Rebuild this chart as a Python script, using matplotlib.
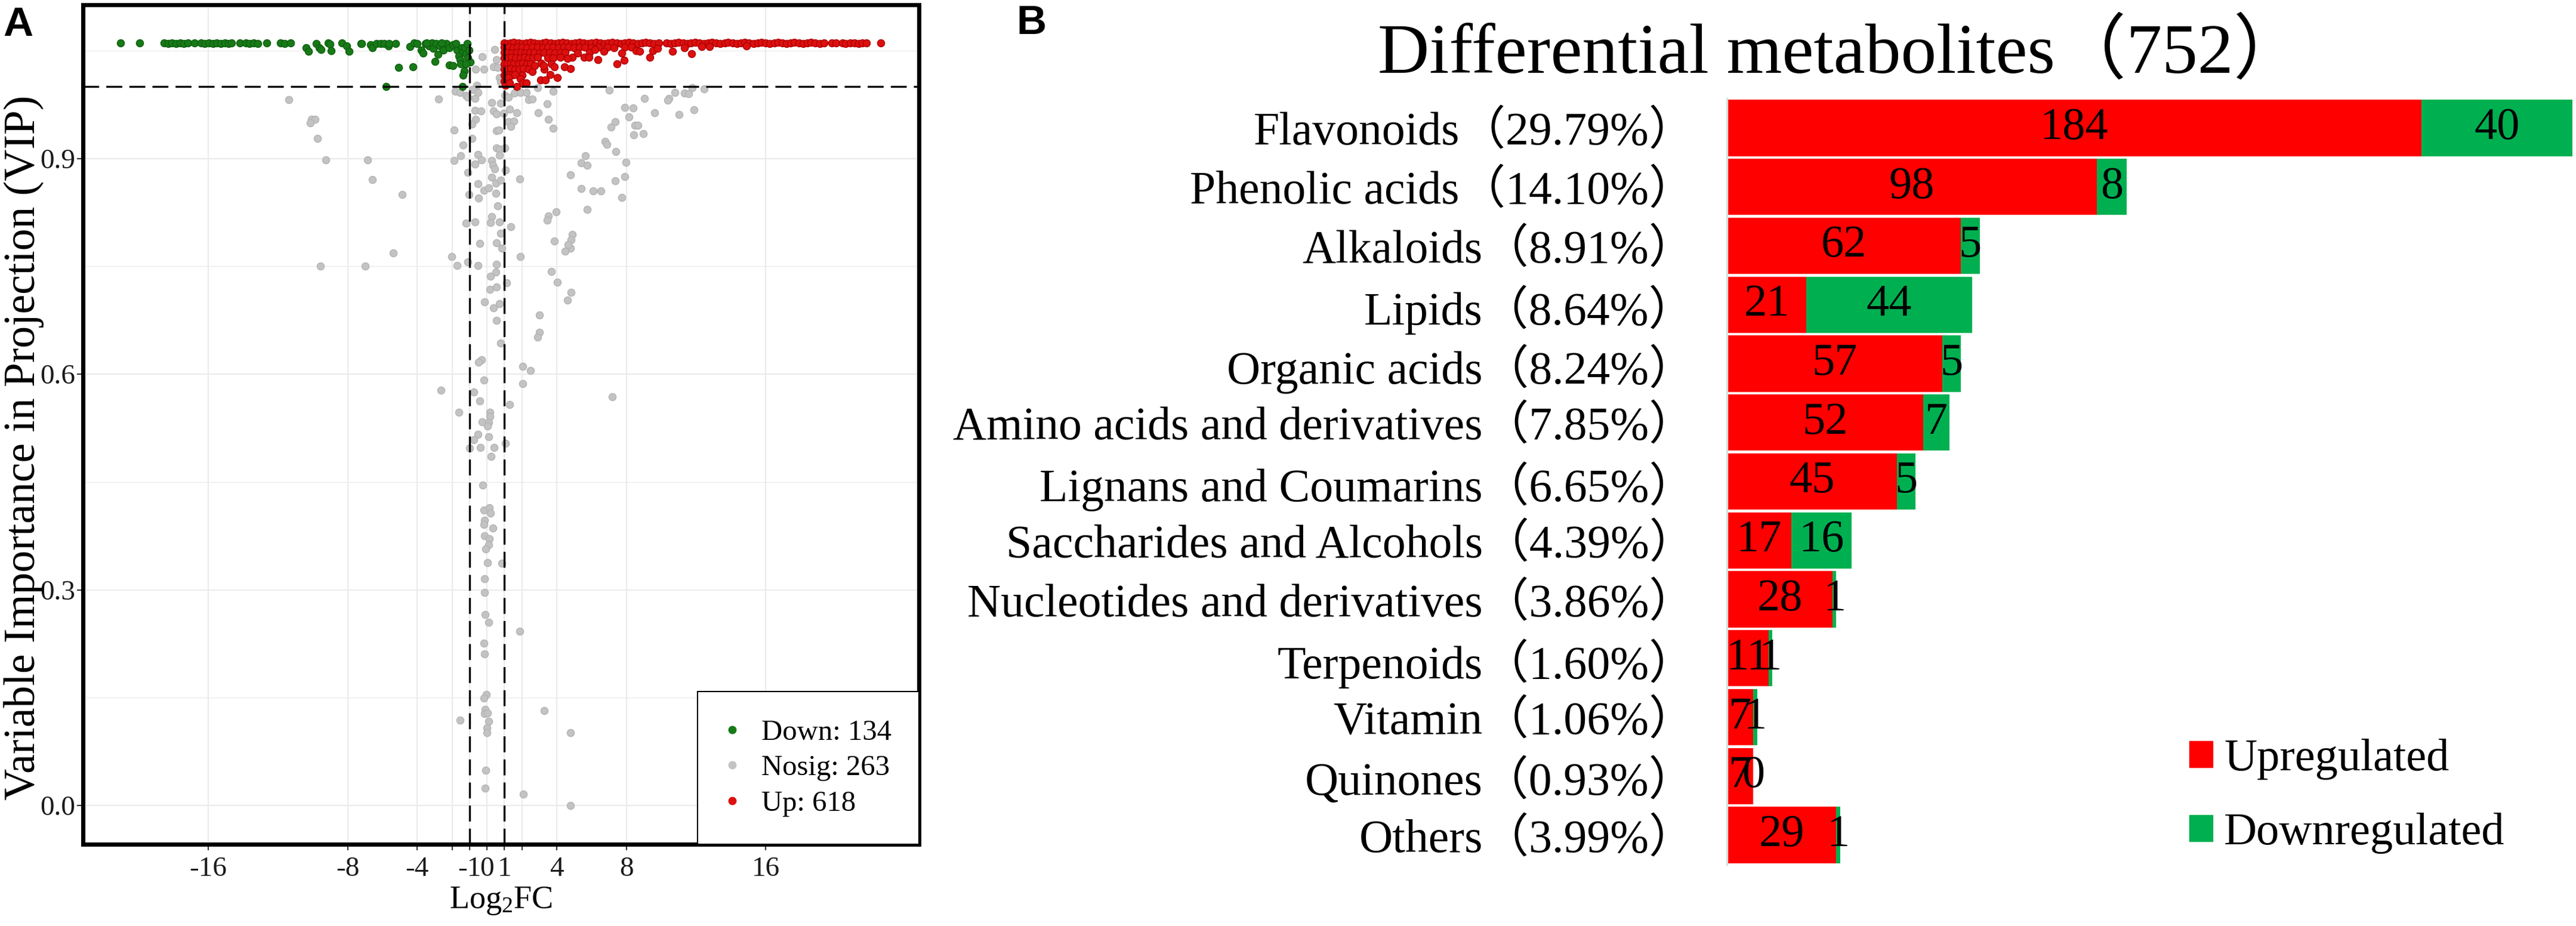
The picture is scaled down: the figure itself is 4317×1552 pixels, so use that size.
import matplotlib
matplotlib.use('Agg')
import matplotlib.pyplot as plt
from matplotlib.lines import Line2D
from matplotlib.patches import Patch
import numpy as np

plt.rcParams['font.family'] = ['Liberation Serif', 'Noto Sans CJK SC']
plt.rcParams['mathtext.fontset'] = 'custom'
plt.rcParams['mathtext.rm'] = 'Liberation Serif'
plt.rcParams['mathtext.it'] = 'Liberation Serif:italic'

# ---------------- panel A data: (log2FC, VIP) ----------------
down_pts = [
    (-21.05, 1.061), (-19.93, 1.061), (-18.54, 1.061), (-18.31, 1.060), (-18.08, 1.061),
    (-17.85, 1.060), (-17.63, 1.061), (-17.40, 1.060), (-17.17, 1.061), (-16.80, 1.061),
    (-16.43, 1.061), (-16.20, 1.060), (-15.97, 1.061), (-15.74, 1.060), (-15.51, 1.061),
    (-15.29, 1.060), (-15.06, 1.061), (-14.83, 1.060), (-14.66, 1.061), (-14.20, 1.061),
    (-13.86, 1.061), (-13.63, 1.060), (-13.40, 1.061), (-13.17, 1.060), (-12.66, 1.061),
    (-11.86, 1.061), (-11.63, 1.060), (-11.29, 1.061), (-10.38, 1.054), (-10.26, 1.049),
    (-9.81, 1.060), (-9.63, 1.054), (-9.52, 1.052), (-9.12, 1.061), (-9.01, 1.059),
    (-8.95, 1.050), (-8.32, 1.061), (-8.04, 1.057), (-7.92, 1.049), (-7.24, 1.060),
    (-7.20, 1.060), (-6.69, 1.058), (-6.58, 1.054), (-6.35, 1.060), (-6.12, 1.060),
    (-5.89, 1.060), (-5.66, 1.057), (-5.61, 1.060), (-5.26, 1.060), (-5.06, 1.027),
    (-4.27, 1.028), (-5.80, 1.000), (-4.44, 1.056), (-4.18, 1.061), (-4.01, 1.060),
    (-3.78, 1.051), (-3.66, 1.047), (-3.55, 1.060), (-3.32, 1.057), (-3.15, 1.061),
    (-3.09, 1.053), (-2.92, 1.060), (-2.81, 1.045), (-2.70, 1.057), (-2.52, 1.051),
    (-2.35, 1.060), (-2.18, 1.054), (-1.95, 1.058), (-2.98, 1.035), (-2.18, 1.030),
    (-1.95, 1.029), (-1.72, 1.051), (-1.61, 1.043), (-1.55, 1.038), (-1.44, 1.054),
    (-1.38, 1.049), (-1.27, 1.054), (-1.21, 1.046), (-1.10, 1.040), (-1.04, 1.051),
    (-0.98, 1.034), (-1.32, 1.022), (-1.38, 1.016), (-1.42, 1.000), (-1.50, 1.032),
    (-1.21, 1.032), (-3.45, 1.061), (-2.60, 1.061), (-1.80, 1.060), (-1.15, 1.060),
]

nosig_pts = [
    (-11.38, 0.982), (-10.09, 0.955), (-9.86, 0.955), (-10.15, 0.950), (-9.72, 0.928),
    (-9.27, 0.898), (-9.58, 0.750), (-6.98, 0.750),
    (0.445, 1.052), (-0.263, 1.042), (0.559, 1.038), (-0.64, 1.024), (-0.183, 1.024),
    (0.387, 1.028), (0.616, 1.027), (0.73, 1.013), (0.787, 1.007), (-0.583, 1.002),
    (-1.838, 0.994), (-1.553, 0.992), (-1.21, 0.988), (-0.811, 0.996), (-0.526, 0.992),
    (-0.697, 0.984), (-2.775, 0.983), (-1.096, 0.985), (0.273, 0.978), (0.787, 0.977),
    (1.015, 0.988), (1.244, 0.985), (1.586, 0.991), (1.929, 0.992), (2.271, 0.992),
    (2.385, 0.982), (2.614, 0.983), (2.899, 0.999), (3.812, 0.994), (3.47, 0.976),
    (7.009, 0.995), (-0.697, 0.967), (-0.355, 0.966), (0.387, 0.966), (0.559, 0.962),
    (0.958, 0.963), (1.301, 0.969), (1.7, 0.964), (2.956, 0.964), (3.527, 0.955),
    (3.812, 0.942), (-0.64, 0.955), (-0.868, 0.948), (1.244, 0.951), (1.529, 0.952),
    (1.358, 0.945), (0.559, 0.939), (0.673, 0.940), (-1.895, 0.940), (-0.868, 0.928),
    (-1.382, 0.919), (-0.526, 0.906), (-1.496, 0.904), (-1.895, 0.897), (-0.297, 0.898),
    (-0.697, 0.892), (0.273, 0.897), (0.33, 0.891), (0.559, 0.915), (0.73, 0.913),
    (1.015, 0.915), (0.73, 0.905), (-6.86, 0.898), (-6.576, 0.871), (-4.863, 0.850),
    (-1.096, 0.881), (-1.04, 0.850), (-0.526, 0.865), (-0.183, 0.856), (0.102, 0.859),
    (0.502, 0.852), (-0.468, 0.845), (0.273, 0.874), (0.502, 0.866), (0.787, 0.870),
    (1.072, 0.884), (1.872, 0.872), (0.445, 0.886), (0.616, 0.834), (0.273, 0.819),
    (0.216, 0.811), (0.73, 0.812), (-0.697, 0.812), (-1.21, 0.810), (1.358, 0.805),
    (-0.411, 0.782), (0.559, 0.783), (0.787, 0.796), (0.844, 0.775), (-2.01, 0.764),
    (-1.724, 0.751), (-1.096, 0.756), (-0.526, 0.751), (0.559, 0.753), (0.502, 0.742),
    (0.216, 0.736), (0.159, 0.718), (0.559, 0.721), (1.13, 0.727), (1.929, 0.764),
    (3.698, 0.743), (4.041, 0.728), (4.84, 0.714), (-5.40, 0.769),
    (7.922, 0.971), (8.378, 0.970), (8.15, 0.958), (7.351, 0.951), (7.123, 0.944),
    (8.493, 0.946), (8.435, 0.933), (6.78, 0.924), (6.895, 0.920), (7.408, 0.910),
    (5.639, 0.904), (5.41, 0.894), (5.753, 0.891), (7.979, 0.895), (4.782, 0.877),
    (7.922, 0.875), (7.351, 0.869), (5.41, 0.858), (6.096, 0.855), (6.552, 0.855),
    (7.75, 0.846), (5.753, 0.829), (3.984, 0.826), (3.527, 0.820), (3.47, 0.814),
    (4.897, 0.794), (4.84, 0.787), (3.869, 0.785), (4.782, 0.775), (4.497, 0.771),
    (4.668, 0.780),
    (9.03, 0.984), (9.63, 0.964), (10.43, 0.984), (10.38, 0.981), (10.78, 0.992),
    (11.03, 0.961), (11.35, 0.991), (11.57, 0.990), (11.77, 0.999), (11.89, 0.968),
    (12.47, 0.997), (8.98, 0.935), (8.66, 0.946),
    (-0.126, 0.701), (0.387, 0.692), (0.73, 0.698), (0.559, 0.675), (0.787, 0.643),
    (4.611, 0.703), (3.013, 0.682), (3.013, 0.658), (2.899, 0.652), (-0.297, 0.620),
    (-0.468, 0.617), (2.043, 0.611), (2.5, 0.605), (-0.183, 0.592), (2.043, 0.587),
    (-2.637, 0.578), (-0.754, 0.575), (-0.411, 0.563), (1.301, 0.558), (7.18, 0.569),
    (-1.61, 0.547), (0.159, 0.547), (0.159, 0.541), (-0.263, 0.534), (0.102, 0.533),
    (0.045, 0.528), (-0.526, 0.516), (-0.754, 0.509), (0.102, 0.513), (-0.982, 0.497),
    (-0.389, 0.498), (0.422, 0.498), (1.072, 0.504), (0.239, 0.486), (-0.24, 0.446),
    (-0.183, 0.411), (0.125, 0.414), (0.194, 0.407), (-0.126, 0.397), (-0.16, 0.391),
    (0.33, 0.386), (-0.126, 0.375), (0.125, 0.371), (0.102, 0.363), (-0.069, 0.357),
    (0.045, 0.338), (0.844, 0.337),
    (-0.149, 0.315), (-0.149, 0.296), (-0.092, 0.266), (0.102, 0.255), (1.872, 0.242),
    (-0.16, 0.226), (-0.149, 0.211), (-0.035, 0.154), (-0.183, 0.149), (-0.092, 0.134),
    (-0.126, 0.128), (0.045, 0.129), (0.102, 0.117), (-1.53, 0.119), (-0.012, 0.108),
    (0.011, 0.101), (3.276, 0.132), (4.782, 0.101), (-0.069, 0.049), (-0.115, 0.024),
    (2.077, 0.016), (4.794, 0.000),
]

up_pts = [
    # top band
    (0.98, 1.061), (1.15, 1.060), (1.35, 1.061), (1.55, 1.062), (1.8, 1.061), (2.0, 1.060),
    (2.25, 1.061), (2.5, 1.062), (2.7, 1.061), (2.95, 1.060), (3.2, 1.061), (3.4, 1.062),
    (3.65, 1.061), (3.9, 1.060), (4.1, 1.061), (4.35, 1.062), (4.6, 1.061), (4.85, 1.060),
    (5.05, 1.061), (5.3, 1.062), (5.55, 1.061), (5.8, 1.060), (6.0, 1.061), (6.25, 1.062),
    (6.5, 1.061), (6.75, 1.060), (6.95, 1.061), (7.2, 1.062), (7.45, 1.061), (7.7, 1.060),
    (7.9, 1.061), (8.15, 1.062), (8.4, 1.061), (8.65, 1.060), (8.9, 1.061), (9.1, 1.062),
    (9.35, 1.061), (9.6, 1.060), (9.85, 1.061), (10.3, 1.061), (10.55, 1.060), (10.8, 1.061),
    (11.0, 1.062), (11.25, 1.061), (11.5, 1.060), (11.7, 1.061), (11.95, 1.062), (12.2, 1.061),
    (12.45, 1.060), (12.7, 1.061), (12.9, 1.062), (13.15, 1.061), (13.4, 1.060), (13.65, 1.061),
    (13.85, 1.062), (14.1, 1.061), (14.35, 1.060), (14.6, 1.061), (14.8, 1.062), (15.05, 1.061),
    (15.3, 1.060), (15.55, 1.061), (15.75, 1.062), (16.0, 1.061), (16.25, 1.060), (16.5, 1.061),
    (16.7, 1.062), (16.95, 1.061), (17.2, 1.060), (17.45, 1.061), (17.65, 1.062), (17.9, 1.061),
    (18.15, 1.060), (18.4, 1.061), (18.6, 1.062), (18.85, 1.061), (19.1, 1.060), (19.35, 1.061),
    (19.8, 1.061), (20.05, 1.061), (20.4, 1.061), (20.6, 1.060), (20.85, 1.061), (21.1, 1.061),
    (21.35, 1.060), (21.55, 1.061), (21.8, 1.061), (22.6, 1.061),
    # second row
    (1.0, 1.055), (1.25, 1.055), (1.5, 1.054), (1.75, 1.055), (2.0, 1.055), (2.3, 1.054),
    (2.6, 1.055), (2.9, 1.055), (3.2, 1.054), (3.5, 1.055), (3.8, 1.055), (4.1, 1.054),
    (4.4, 1.055), (4.7, 1.055), (5.0, 1.054), (5.3, 1.055), (5.6, 1.055), (6.0, 1.054),
    (6.4, 1.055), (6.9, 1.055), (7.3, 1.054), (7.9, 1.055), (8.3, 1.055),
    # wedge
    (1.0, 1.048), (1.2, 1.048), (1.45, 1.047), (1.7, 1.048), (1.95, 1.048), (2.2, 1.047),
    (2.45, 1.048), (2.7, 1.048), (3.0, 1.047), (3.3, 1.048), (3.6, 1.048), (3.9, 1.047),
    (4.2, 1.048), (4.5, 1.048), (5.2, 1.047), (5.9, 1.048),
    (1.0, 1.040), (1.2, 1.040), (1.4, 1.041), (1.65, 1.040), (1.9, 1.040), (2.15, 1.041),
    (2.4, 1.040), (2.65, 1.040), (2.9, 1.041), (3.5, 1.040), (3.8, 1.040), (4.2, 1.041),
    (1.0, 1.032), (1.15, 1.032), (1.35, 1.033), (1.55, 1.032), (1.8, 1.032), (2.05, 1.033),
    (2.3, 1.032), (2.5, 1.032), (3.1, 1.033), (3.7, 1.032),
    (1.0, 1.024), (1.15, 1.024), (1.35, 1.025), (1.6, 1.024), (1.85, 1.024), (2.1, 1.025),
    (2.4, 1.024), (3.3, 1.024),
    (1.0, 1.016), (1.1, 1.016), (1.3, 1.017), (1.45, 1.016), (2.0, 1.016),
    (1.0, 1.008), (1.1, 1.008), (1.05, 1.002),
    # scattered below the band
    (1.24, 1.013), (1.30, 1.005), (1.59, 1.017), (1.70, 1.000), (1.93, 1.011), (2.04, 1.005),
    (2.27, 1.005), (2.61, 1.021), (2.73, 1.029), (3.07, 1.009), (3.24, 1.029), (3.36, 1.009),
    (3.64, 1.017), (3.87, 1.028), (4.04, 1.013), (4.44, 1.028), (4.78, 1.025), (4.90, 1.041),
    (4.61, 1.039), (5.58, 1.041), (5.87, 1.041), (6.38, 1.038), (6.72, 1.049), (6.21, 1.052),
    (7.47, 1.032), (7.87, 1.037), (7.75, 1.047), (8.55, 1.050), (8.78, 1.049), (9.35, 1.041),
    (9.52, 1.050), (9.81, 1.053), (10.66, 1.049), (11.35, 1.054), (11.75, 1.046),
    (12.32, 1.056), (12.77, 1.056), (14.89, 1.057),
]

legend_a = ['Down: 134', 'Nosig: 263', 'Up: 618']
x_ticks = [-16, -8, -4, -2, -1, 0, 1, 2, 4, 8, 16]
x_ticklabels = ['-16', '-8', '-4', '', '-1', '0', '1', '', '4', '8', '16']
y_ticks = [0.0, 0.3, 0.6, 0.9]

# ---------------- panel B data ----------------
classes = ['Flavonoids', 'Phenolic acids', 'Alkaloids', 'Lipids', 'Organic acids',
           'Amino acids and derivatives', 'Lignans and Coumarins', 'Saccharides and Alcohols',
           'Nucleotides and derivatives', 'Terpenoids', 'Vitamin', 'Quinones', 'Others']
percents = ['29.79%', '14.10%', '8.91%', '8.64%', '8.24%', '7.85%', '6.65%', '4.39%',
            '3.86%', '1.60%', '1.06%', '0.93%', '3.99%']
upregulated = [184, 98, 62, 21, 57, 52, 45, 17, 28, 11, 7, 7, 29]
downregulated = [40, 8, 5, 44, 5, 7, 5, 16, 1, 1, 1, 0, 1]
total = 752

W, H = 4317, 1552
fig = plt.figure(figsize=(W / 100, H / 100), dpi=100)

# ================= panel A =================
ax1 = fig.add_axes([139 / W, 1 - 1415 / H, 1401 / W, 1407 / H])
ax1.set_xlim(-23.2, 24.8)
ax1.set_ylim(-0.054, 1.114)
ax1.set_axisbelow(True)

ns = np.array(nosig_pts)
dn = np.array(down_pts)
up = np.array(up_pts)
ax1.scatter(ns[:, 0], ns[:, 1], s=76, c='#c3c3c3', edgecolors='#b3b3b3', linewidths=1, zorder=2)
ax1.scatter(dn[:, 0], dn[:, 1], s=76, c='#177a17', edgecolors='#0e5e0e', linewidths=1, zorder=3)
ax1.scatter(up[:, 0], up[:, 1], s=76, c='#dc1010', edgecolors='#b00000', linewidths=1, zorder=3)

ax1.axvline(-1, color='black', lw=2.4, ls=(0, (8, 3.6)), zorder=4)
ax1.axvline(1, color='black', lw=2.4, ls=(0, (8, 3.6)), zorder=4)
ax1.axhline(1.0, color='black', lw=2.4, ls=(0, (8, 3.6)), zorder=4)

ax1.set_xticks(x_ticks)
ax1.set_xticklabels(x_ticklabels)
ax1.set_yticks(y_ticks)
ax1.set_yticklabels(['%.1f' % v for v in y_ticks])
ax1.set_yticks([0.15, 0.45, 0.75, 1.05], minor=True)
ax1.tick_params(axis='both', which='major', labelsize=34, length=7, width=1.5,
                color='#333333', labelcolor='#1a1a1a')
ax1.tick_params(axis='x', which='major', pad=8)
ax1.tick_params(axis='y', which='major', pad=2)
ax1.tick_params(axis='y', which='minor', length=0)
ax1.grid(which='major', color='#ebebeb', lw=1.6)
ax1.grid(which='minor', axis='y', color='#ebebeb', lw=1.0)
for sp in ax1.spines.values():
    sp.set_linewidth(5)
    sp.set_color('black')

ax1.set_xlabel('Log$_{2}$FC', fontsize=39, labelpad=4)
fig.text(40 / W, 1 - 750 / H, 'Variable Importance in Projection (VIP)', fontsize=53,
         rotation=90, ha='center', va='center')

handles = [Line2D([], [], ls='none', marker='o', ms=9, color=c)
           for c in ['#177a17', '#c3c3c3', '#dc1010']]
leg = ax1.legend(handles, legend_a, loc='lower right', borderaxespad=0, fontsize=35,
                 frameon=True, fancybox=False, edgecolor='black', framealpha=1,
                 borderpad=0.95, labelspacing=0.32, handlelength=0.5, handletextpad=0.75)
leg.get_frame().set_linewidth(1.5)
leg.set_zorder(5)

fig.text(5 / W, 1 - 60 / H, 'A', fontsize=50, fontweight='bold', family='Liberation Sans',
         ha='left', va='baseline')

# ================= panel B =================
ax2 = fig.add_axes([2894 / W, 1 - 1449 / H, 1420 / W, 1284 / H])
ypos = np.arange(len(classes))
b1 = ax2.barh(ypos, upregulated, height=0.955, color='#ff0000', label='Upregulated')
b2 = ax2.barh(ypos, downregulated, left=upregulated, height=0.955, color='#00b050',
              label='Downregulated')
ax2.bar_label(b1, labels=[str(v) for v in upregulated], label_type='center', fontsize=55)
ax2.bar_label(b2, labels=[str(v) for v in downregulated], label_type='center', fontsize=55)
ax2.set_xlim(0, 224.5)
ax2.set_ylim(len(classes) - 0.5, -0.5)
ax2.set_yticks(ypos)
ax2.set_yticklabels(['%s（%s）' % (c, p) for c, p in zip(classes, percents)])
ax2.tick_params(axis='y', length=0, labelsize=56, pad=38)
ax2.set_xticks([])
for s in ['top', 'right', 'bottom']:
    ax2.spines[s].set_visible(False)
ax2.spines['left'].set_color('#d3e2e2')
ax2.spines['left'].set_linewidth(2.5)

fig.text(2309 / W, 1 - 122 / H, 'Differential metabolites（%d）' % total, fontsize=86,
         ha='left', va='baseline')

hb = [Patch(color='#ff0000'), Patch(color='#00b050')]
fig.legend(hb, ['Upregulated', 'Downregulated'], loc='upper left',
           bbox_to_anchor=(3669 / W, 1 - 1238 / H), frameon=False, fontsize=55,
           borderpad=0, borderaxespad=0, handlelength=0.51, handleheight=0.51,
           handletextpad=0.25, labelspacing=0.72)

fig.text(1703 / W, 1 - 57 / H, 'B', fontsize=50, fontweight='bold', family='Liberation Sans',
         ha='left', va='baseline')

fig.savefig('out.png', dpi=100)
